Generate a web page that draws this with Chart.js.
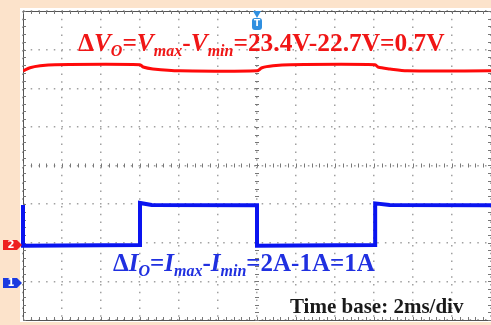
<!DOCTYPE html>
<html lang="en">
<head>
    <meta charset="UTF-8">
    <title>Output voltage and current, 2ms/div</title>
    <script src="https://cdn.jsdelivr.net/npm/chart.js"></script>
    <style>
        html, body { margin: 0; padding: 0; background: #fce3cb; }
        canvas { display: block; }
    </style>
</head>
<body>
    <canvas id="scope" width="491" height="325"></canvas>

    <script>
        // time in ms (2 ms/div), levels in screen divisions (0..8)
        const voltTime = [0, 0.36, 0.88, 1.64, 6.0, 6.16, 6.66, 8.06, 12.0, 12.26, 12.82, 13.7, 18.06, 18.2, 18.82, 19.7, 24];
        const voltLevel = [6.45, 6.53, 6.58, 6.61, 6.61, 6.55, 6.50, 6.45, 6.45, 6.53, 6.58, 6.61, 6.61, 6.55, 6.50, 6.45, 6.45];

        const currTime = [0, 0, 6.0, 6.0, 6.6, 12.0, 12.0, 18.06, 18.06, 18.8, 24];
        const currLevel = [2.98, 1.92, 1.94, 3.03, 2.98, 2.97, 1.92, 1.94, 3.02, 2.98, 2.97];

        const timeTicks = [0, 2, 4, 6, 8, 10, 12, 14, 16, 18, 20, 22, 24];
        const levelTicks = [0, 1, 2, 3, 4, 5, 6, 7, 8];

        const voltLabel = [
            { t: 'Δ' }, { t: 'V', it: true }, { t: 'O', it: true, sub: true }, { t: '=' },
            { t: 'V', it: true }, { t: 'max', it: true, sub: true }, { t: '-' },
            { t: 'V', it: true }, { t: 'min', it: true, sub: true }, { t: '=23.4V-22.7V=0.7V' }
        ];
        const currLabel = [
            { t: 'Δ' }, { t: 'I', it: true }, { t: 'O', it: true, sub: true }, { t: '=' },
            { t: 'I', it: true }, { t: 'max', it: true, sub: true }, { t: '-' },
            { t: 'I', it: true }, { t: 'min', it: true, sub: true }, { t: '=2A-1A=1A' }
        ];
        const baseLabel = 'Time base: 2ms/div';

        function toPoints(xs, ys) {
            return xs.map((x, i) => ({ x: x, y: ys[i] }));
        }

        function drawRich(ctx, parts, x, y, size, color) {
            ctx.fillStyle = color;
            ctx.textBaseline = 'alphabetic';
            let cx = x;
            parts.forEach(p => {
                const fs = p.sub ? Math.round(size * 0.64) : size;
                ctx.font = (p.it ? 'italic ' : '') + 'bold ' + fs + 'px "Liberation Serif", serif';
                ctx.fillText(p.t, cx, p.sub ? y + size * 0.2 : y);
                cx += ctx.measureText(p.t).width;
            });
        }

        function marker(ctx, x, y, color, label) {
            ctx.save();
            ctx.fillStyle = color;
            ctx.beginPath();
            ctx.moveTo(x, y - 5);
            ctx.lineTo(x + 14, y - 5);
            ctx.lineTo(x + 19, y);
            ctx.lineTo(x + 14, y + 5);
            ctx.lineTo(x, y + 5);
            ctx.closePath();
            ctx.fill();
            ctx.fillStyle = '#ffffff';
            ctx.font = 'bold 10px "DejaVu Sans", sans-serif';
            ctx.textAlign = 'center';
            ctx.textBaseline = 'middle';
            ctx.fillText(label, x + 8, y + 0.5);
            ctx.restore();
        }

        const scopePlugin = {
            id: 'scope',
            beforeDraw(chart) {
                const { ctx, chartArea: a } = chart;
                ctx.save();
                ctx.fillStyle = '#fce3cb';
                ctx.fillRect(0, 0, chart.width, chart.height);
                ctx.fillStyle = '#ffffff';
                ctx.fillRect(a.left - 3, a.top - 3, chart.width, a.bottom - a.top + 5);
                ctx.restore();
            },
            beforeDatasetsDraw(chart) {
                const { ctx, chartArea: a, scales } = chart;
                const xs = scales.x, ys = scales.y;
                ctx.save();
                ctx.strokeStyle = '#555555';
                ctx.lineWidth = 1;
                ctx.strokeRect(a.left + 0.5, a.top + 0.5, a.right - a.left, a.bottom - a.top);
                ctx.beginPath();
                const cx = xs.getPixelForValue(12), cy = ys.getPixelForValue(4);
                for (let t = 0; t <= 24.001; t += 0.4) {
                    const px = Math.round(xs.getPixelForValue(t)) + 0.5;
                    ctx.moveTo(px, a.top); ctx.lineTo(px, a.top + 3);
                    ctx.moveTo(px, a.bottom); ctx.lineTo(px, a.bottom - 3);
                    ctx.moveTo(px, cy - 2); ctx.lineTo(px, cy + 2);
                }
                for (let v = 0; v <= 8.001; v += 0.2) {
                    const py = Math.round(ys.getPixelForValue(v)) + 0.5;
                    ctx.moveTo(a.left, py); ctx.lineTo(a.left + 3, py);
                    ctx.moveTo(a.right, py); ctx.lineTo(a.right - 3, py);
                    ctx.moveTo(cx - 2, py); ctx.lineTo(cx + 2, py);
                }
                ctx.strokeStyle = '#777777';
                ctx.stroke();
                ctx.restore();
            },
            afterDraw(chart) {
                const { ctx, scales } = chart;
                const xs = scales.x, ys = scales.y;
                ctx.save();
                drawRich(ctx, voltLabel, xs.getPixelForValue(2.82), ys.getPixelForValue(6.97), 25.4, '#f01616');
                drawRich(ctx, currLabel, xs.getPixelForValue(4.62), ys.getPixelForValue(1.27), 25, '#2030e0');
                ctx.fillStyle = '#1a1a1a';
                ctx.font = 'bold 21px "Liberation Serif", serif';
                ctx.fillText(baseLabel, xs.getPixelForValue(13.69), ys.getPixelForValue(0.18));

                // channel reference markers
                marker(ctx, 3, ys.getPixelForValue(1.94), '#ee2020', '2');
                marker(ctx, 3, ys.getPixelForValue(0.96), '#1a3ae0', '1');

                // trigger marker
                const tx = xs.getPixelForValue(12), top = chart.chartArea.top;
                ctx.fillStyle = '#2f8fe0';
                ctx.beginPath();
                ctx.moveTo(tx - 4, top);
                ctx.lineTo(tx + 4, top);
                ctx.lineTo(tx, top + 7);
                ctx.closePath();
                ctx.fill();
                ctx.beginPath();
                ctx.roundRect(tx - 5, top + 7, 10, 12, 3);
                ctx.fill();
                ctx.fillStyle = '#ffffff';
                ctx.font = 'bold 9px "DejaVu Sans", sans-serif';
                ctx.textAlign = 'center';
                ctx.textBaseline = 'middle';
                ctx.fillText('T', tx, top + 13);
                ctx.restore();
            }
        };

        const gridOpts = {
            color: '#a0a0a0',
            lineWidth: 1.5,
            drawTicks: false
        };

        new Chart(document.getElementById('scope').getContext('2d'), {
            type: 'line',
            data: {
                datasets: [
                    {
                        label: 'V_O',
                        data: toPoints(voltTime, voltLevel),
                        borderColor: '#ff0a0a',
                        borderWidth: 3,
                        pointRadius: 0,
                        tension: 0.3
                    },
                    {
                        label: 'I_O',
                        data: toPoints(currTime, currLevel),
                        borderColor: '#0a14f0',
                        borderWidth: 4,
                        pointRadius: 0,
                        tension: 0,
                        clip: 3
                    }
                ]
            },
            options: {
                responsive: false,
                animation: false,
                layout: { padding: { left: 23, top: 11, right: 0, bottom: 5 } },
                plugins: { legend: { display: false }, tooltip: { enabled: false } },
                scales: {
                    x: {
                        type: 'linear', min: 0, max: 24,
                        afterBuildTicks: s => { s.ticks = timeTicks.map(v => ({ value: v })); },
                        ticks: { display: false },
                        grid: gridOpts,
                        border: { display: false, dash: [1.5, 6.3] }
                    },
                    y: {
                        type: 'linear', min: 0, max: 8,
                        afterBuildTicks: s => { s.ticks = levelTicks.map(v => ({ value: v })); },
                        ticks: { display: false },
                        grid: gridOpts,
                        border: { display: false, dash: [1.5, 6.2] }
                    }
                }
            },
            plugins: [scopePlugin]
        });
    </script>
</body>
</html>
